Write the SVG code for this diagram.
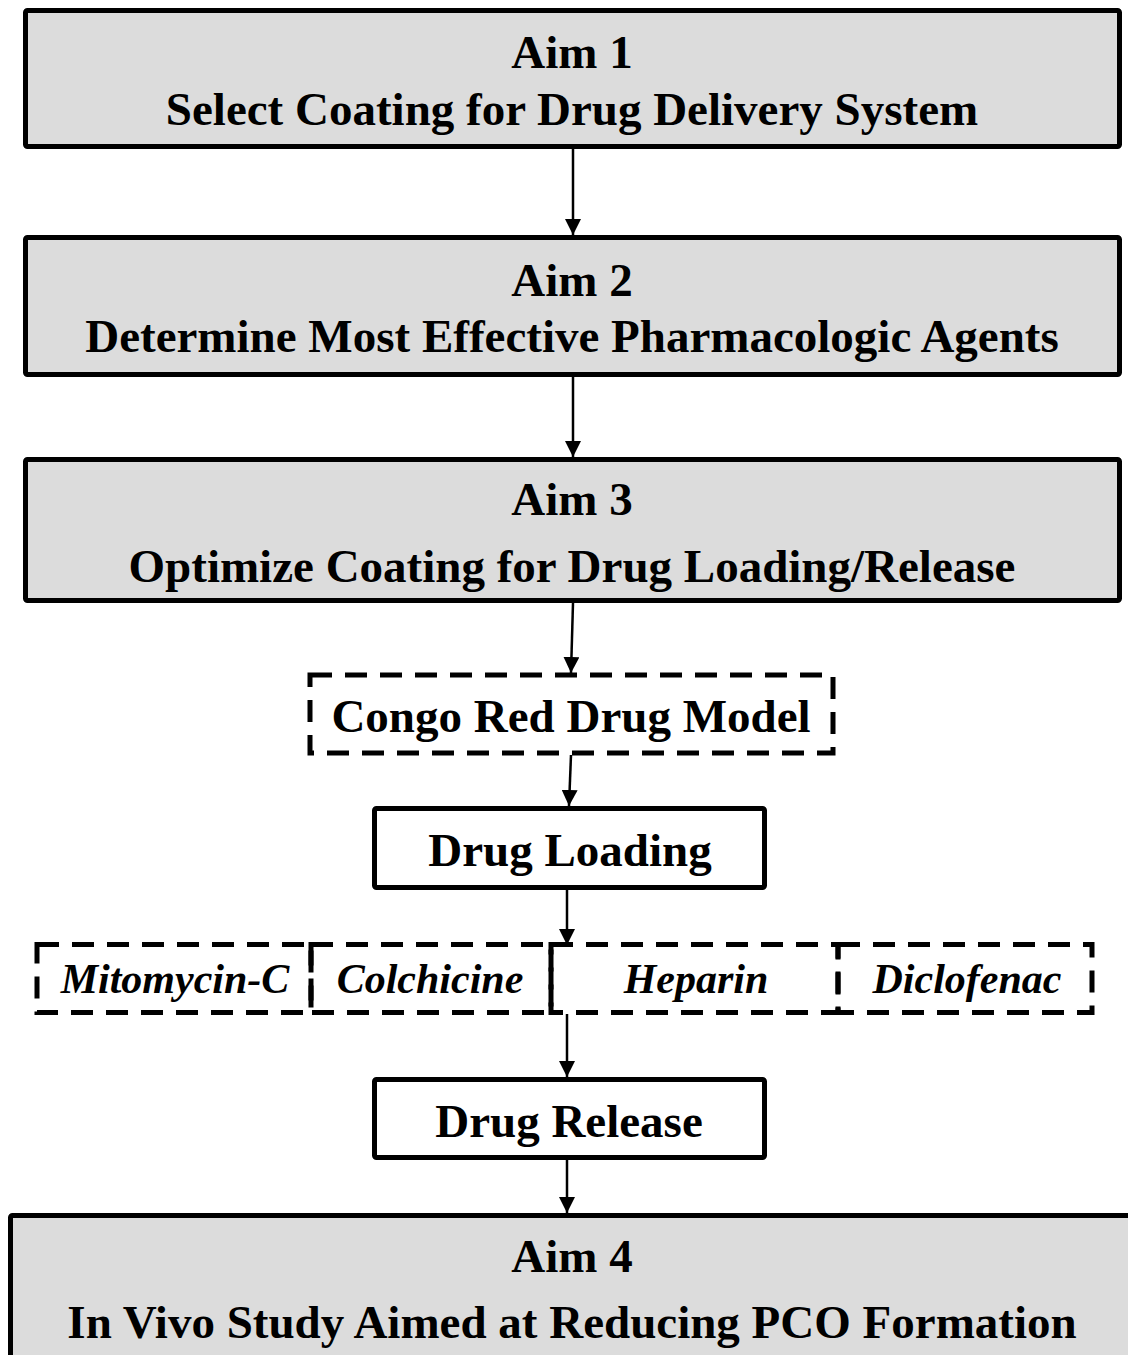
<svg xmlns="http://www.w3.org/2000/svg" width="1128" height="1355" viewBox="0 0 1128 1355">
  <defs>
    <style>
      .aim { fill: #dcdcdc; stroke: #000; stroke-width: 5; }
      .box { fill: #fff; stroke: #000; stroke-width: 5; }
      .dash { fill: none; stroke: #000; stroke-width: 5; stroke-dasharray: 22 13; }
      .t { font-family: "Liberation Serif", "Times New Roman", serif; font-weight: bold; font-size: 47px; text-anchor: middle; fill: #000; }
      .ti { font-family: "Liberation Serif", "Times New Roman", serif; font-weight: bold; font-style: italic; font-size: 42px; text-anchor: middle; fill: #000; }
      .link { stroke: #000; stroke-width: 2.5; fill: none; marker-end: url(#head); }
    </style>
    <marker id="head" viewBox="0 0 16 16" refX="16" refY="8" markerWidth="16" markerHeight="16" markerUnits="userSpaceOnUse" orient="auto">
      <path d="M0,0 L16,8 L0,16 Z" fill="#000"/>
    </marker>
  </defs>
  <rect width="1128" height="1355" fill="#fff"/>

  <g id="aim1">
    <rect class="aim" x="25.5" y="10.5" width="1094" height="136" rx="2"/>
    <text class="t" x="572" y="68">Aim 1</text>
    <text class="t" x="572" y="125">Select Coating for Drug Delivery System</text>
  </g>

  <g id="aim2">
    <rect class="aim" x="25.5" y="237.5" width="1094" height="137" rx="2"/>
    <text class="t" x="572" y="296">Aim 2</text>
    <text class="t" x="572" y="352">Determine Most Effective Pharmacologic Agents</text>
  </g>

  <g id="aim3">
    <rect class="aim" x="25.5" y="459.5" width="1094" height="141" rx="2"/>
    <text class="t" x="572" y="515">Aim 3</text>
    <text class="t" x="572" y="582">Optimize Coating for Drug Loading/Release</text>
  </g>

  <g id="congo-red">
    <rect class="dash" x="310" y="675" width="523" height="78"/>
    <text class="t" x="571" y="732">Congo Red Drug Model</text>
  </g>

  <g id="drug-loading">
    <rect class="box" x="374.5" y="808.5" width="390" height="79" rx="2"/>
    <text class="t" x="570" y="866">Drug Loading</text>
  </g>

  <g id="mitomycin">
    <rect class="dash" x="37" y="944.5" width="274" height="68"/>
    <text class="ti" x="175" y="993">Mitomycin-C</text>
  </g>
  <g id="colchicine">
    <rect class="dash" x="311" y="944.5" width="240" height="68"/>
    <text class="ti" x="430" y="993">Colchicine</text>
  </g>
  <g id="heparin">
    <rect class="dash" x="551" y="944.5" width="287" height="68"/>
    <text class="ti" x="696" y="993">Heparin</text>
  </g>
  <g id="diclofenac">
    <rect class="dash" x="838" y="944.5" width="254" height="68"/>
    <text class="ti" x="967" y="993">Diclofenac</text>
  </g>

  <g id="drug-release">
    <rect class="box" x="374.5" y="1079.5" width="390" height="78" rx="2"/>
    <text class="t" x="569" y="1137">Drug Release</text>
  </g>

  <g id="aim4">
    <rect class="aim" x="10.5" y="1215.5" width="1130" height="160" rx="2"/>
    <text class="t" x="572" y="1272">Aim 4</text>
    <text class="t" x="572" y="1338">In Vivo Study Aimed at Reducing PCO Formation</text>
  </g>

  <g id="connectors">
    <line class="link" x1="573" y1="149" x2="573" y2="235"/>
    <line class="link" x1="573" y1="377" x2="573" y2="457"/>
    <line class="link" x1="573" y1="603" x2="571" y2="673"/>
    <line class="link" x1="571" y1="755" x2="569" y2="806"/>
    <line class="link" x1="567" y1="890" x2="567" y2="945"/>
    <line class="link" x1="567" y1="1014" x2="567" y2="1077"/>
    <line class="link" x1="567" y1="1160" x2="567" y2="1213"/>
  </g>
</svg>
